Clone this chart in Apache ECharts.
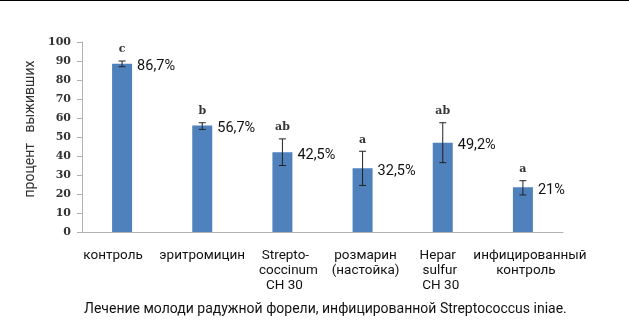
<!DOCTYPE html>
<html><head><meta charset="utf-8">
<script src="https://cdn.jsdelivr.net/npm/echarts@6/dist/echarts.min.js"></script>
<style>html,body{margin:0;padding:0;background:#fff}#c{width:629px;height:332px;border-top:1px solid #000;box-sizing:border-box}</style>
</head><body><div id="c"></div>
<script>
// ---- data ----
var categories = ['контроль', 'эритромицин', 'Strepto-|coccinum|CH 30', 'розмарин|(настойка)', 'Hepar|sulfur|CH 30', 'инфицированный|контроль'];
var survival = [88.5, 56, 42, 33.5, 47, 23.5];
var errLow = [87, 54, 35, 24.5, 36.5, 19.5];
var errHigh = [90, 57.5, 49, 42.5, 57.5, 27];
var pctLabels = ['86,7%', '56,7%', '42,5%', '32,5%', '49,2%', '21%'];
var letters = ['c', 'b', 'ab', 'a', 'ab', 'a'];
var yTicks = [0, 10, 20, 30, 40, 50, 60, 70, 80, 90, 100];
var yName = 'процент   выживших';
var caption = 'Лечение молоди радужной форели, инфицированной Streptococcus iniae.';

// ---- layout (label horizontal shifts per line, px to the left) ----
var labelShift = [[9], [0], [-3, -6, -2], [-3, -3], [5, 3, 2], [-7, -3]];
var FONT = 'Roboto';

var chart = echarts.init(document.getElementById('c'));
var rich = {};
for (var s = -60; s <= 60; s++) {
  rich['s' + (s + 100)] = { fontSize: 13.5, lineHeight: 15, color: '#111', fontFamily: FONT, padding: s >= 0 ? [0, 2 * s, 0, 0] : [0, 0, 0, -2 * s] };
}
chart.setOption({
  animation: false,
  grid: { left: 82, right: 66, top: 41, bottom: 100, containLabel: false },
  title: {
    text: caption, left: 79, top: 296,
    textStyle: { fontSize: 14, fontWeight: 'normal', color: '#111', fontFamily: FONT }
  },
  xAxis: {
    type: 'category', data: categories,
    axisLine: { lineStyle: { color: '#b0b0b0', width: 1 } },
    axisTick: { show: false },
    axisLabel: {
      margin: 16, interval: 0,
      formatter: function (v, i) {
        var lines = v.split('|');
        return lines.map(function (t, k) {
          var sh = labelShift[i][k] || 0;
          return '{s' + (sh + 100) + '|' + t + '}';
        }).join('\n');
      },
      rich: rich
    }
  },
  yAxis: {
    type: 'value', min: yTicks[0], max: yTicks[yTicks.length - 1], interval: yTicks[1] - yTicks[0],
    name: yName, nameLocation: 'middle', nameGap: 40, nameRotate: 90,
    nameTextStyle: { fontSize: 14, color: '#333', fontFamily: FONT, padding: [0, 0, 0, 16] },
    axisLine: { show: true, lineStyle: { color: '#b0b0b0' } },
    axisTick: { show: true, length: 5, lineStyle: { color: '#b0b0b0' } },
    splitLine: { show: false },
    axisLabel: { margin: 11, fontSize: 11, fontWeight: 'bold', color: '#333', fontFamily: 'DejaVu Serif' }
  },
  series: [{
    type: 'bar', data: survival, barWidth: 20,
    itemStyle: { color: '#4f81bd' },
    label: {
      show: true, position: [25, 3], align: 'left', verticalAlign: 'middle',
      fontSize: 14.5, color: '#111', fontFamily: FONT,
      formatter: function (p) { return pctLabels[p.dataIndex]; }
    },
    z: 2
  }, {
    type: 'custom',
    data: categories.map(function (c, i) { return [i, errLow[i], errHigh[i]]; }),
    renderItem: function (params, api) {
      var x = api.value(0);
      var top = api.coord([x, api.value(2)]);
      var bot = api.coord([x, api.value(1)]);
      var w = 3.5, st = { stroke: '#222', lineWidth: 1 };
      return {
        type: 'group', children: [
          { type: 'line', shape: { x1: top[0], y1: top[1], x2: bot[0], y2: bot[1] }, style: st },
          { type: 'line', shape: { x1: top[0] - w, y1: top[1], x2: top[0] + w, y2: top[1] }, style: st },
          { type: 'line', shape: { x1: bot[0] - w, y1: bot[1], x2: bot[0] + w, y2: bot[1] }, style: st },
          { type: 'text', x: top[0], y: top[1] - 6, style: { text: letters[params.dataIndex], align: 'center', verticalAlign: 'bottom', fontSize: 11, fontWeight: 'bold', fontFamily: 'DejaVu Serif', fill: '#333' } }
        ]
      };
    },
    z: 3
  }]
});
</script></body></html>
